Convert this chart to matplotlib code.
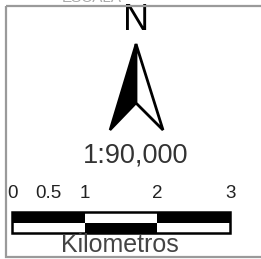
import matplotlib
matplotlib.use("Agg")
import matplotlib.pyplot as plt
from matplotlib.patches import Polygon, Rectangle

plt.rcParams["font.family"] = ["Liberation Sans", "DejaVu Sans"]

# map element content
north_label = "N"
scale_text = "1:90,000"
unit_label = "Kilometros"
tick_values = [0, 0.5, 1, 2, 3]
tick_labels = ["0", "0.5", "1", "2", "3"]
segment_edges = [0, 1, 2, 3]
top_row_black = [True, False, True]

W, H = 261, 259
fig = plt.figure(figsize=(W / 100, H / 100), dpi=100)
ax = fig.add_axes([0, 0, 1, 1])
ax.set_xlim(0, W)
ax.set_ylim(H, 0)
ax.axis("off")

# frame (right edge runs off the picture)
ax.add_patch(Rectangle((6, 6), 280, 251, fill=False, edgecolor="#9a9a9a",
                       linewidth=1.6, zorder=5))
# label of the element above, only its lower edge shows
ax.text(92, 1.5, "ESCALA", ha="center", va="baseline", fontsize=11,
        color="#aaaaaa")

# north arrow
cx = 136
ax.text(cx, 21, north_label, ha="center", va="center", fontsize=26,
        color="black")
tip, left, notch, right = (cx, 44), (110, 130), (cx, 103), (163, 130)
ax.add_patch(Polygon([tip, left, notch], closed=True, facecolor="black",
                     edgecolor="black", linewidth=1.8, joinstyle="miter"))
ax.add_patch(Polygon([tip, notch, right], closed=True, facecolor="white",
                     edgecolor="black", linewidth=2.0, joinstyle="miter"))

ax.text(cx, 155, scale_text, ha="center", va="center", fontsize=19.5,
        color="#333333")

# scale bar
x0, ppk = 12, 72.7
y_top, y_mid, y_bot = 212, 222.5, 233
for i in range(len(segment_edges) - 1):
    xa = x0 + segment_edges[i] * ppk
    w = (segment_edges[i + 1] - segment_edges[i]) * ppk
    top_c = "black" if top_row_black[i] else "white"
    bot_c = "white" if top_row_black[i] else "black"
    ax.add_patch(Rectangle((xa, y_top), w, y_mid - y_top, facecolor=top_c,
                           edgecolor="none"))
    ax.add_patch(Rectangle((xa, y_mid), w, y_bot - y_mid, facecolor=bot_c,
                           edgecolor="none"))
ax.add_patch(Rectangle((x0, y_top), segment_edges[-1] * ppk, y_bot - y_top,
                       fill=False, edgecolor="black", linewidth=1.8))

for v, lab in zip(tick_values, tick_labels):
    ax.text(x0 + v * ppk, 194, lab, ha="center", va="center", fontsize=13.5,
            color="#222222")

ax.text(120, 245, unit_label, ha="center", va="center", fontsize=18,
        color="#444444")

fig.savefig("out.png", dpi=100)
